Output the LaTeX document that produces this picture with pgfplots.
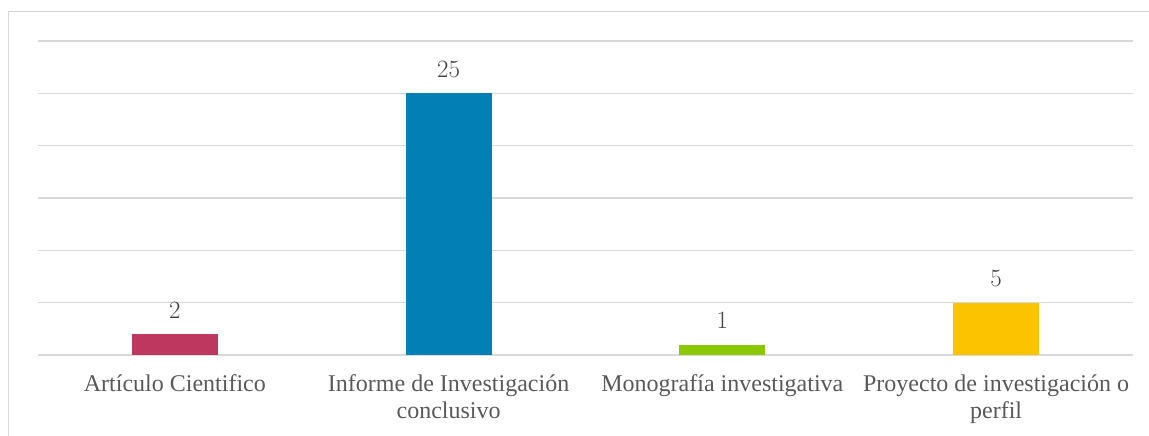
\documentclass[border=0pt]{standalone}
\usepackage{pgfplots}
\pgfplotsset{compat=1.18}
\usepackage{fontspec}
\setmainfont{Liberation Serif}
\definecolor{cpink}{RGB}{190,55,95}
\definecolor{cblue}{RGB}{0,128,180}
\definecolor{cgreen}{RGB}{140,200,0}
\definecolor{cyellow}{RGB}{252,195,0}
\definecolor{gridc}{RGB}{217,217,217}
\definecolor{txt}{RGB}{89,89,89}
\definecolor{vtxt}{RGB}{64,64,64}
\begin{document}
\begin{tikzpicture}[x=1pt,y=1pt]
\useasboundingbox (0,0) rectangle (1149,436);
\draw[gridc, line width=1.2pt] (8.5,-5) -- (8.5,424.5) -- (1160,424.5);
\begin{axis}[
  at={(38pt,81pt)}, anchor=south west,
  width=1095pt, height=314pt, scale only axis,
  xmin=-0.5, xmax=3.5, ymin=0, ymax=30,
  axis line style={draw=none},
  major tick length=0pt,
  ytick={0,5,...,30},
  yticklabels={},
  ymajorgrids, grid style={gridc, line width=1.6pt},
  xtick={0,1,2,3},
  xticklabels={},
  ybar, bar width=86pt,
  clip=false,
  nodes near coords,
  every node near coord/.style={font=\fontsize{24}{26}\selectfont, text=vtxt, anchor=base, yshift=16pt, inner sep=0pt},
]
\addplot[fill=cpink, draw=none, bar shift=0pt] coordinates {(0,2)};
\addplot[fill=cblue, draw=none, bar shift=0pt] coordinates {(1,25)};
\addplot[fill=cgreen, draw=none, bar shift=0pt] coordinates {(2,1)};
\addplot[fill=cyellow, draw=none, bar shift=0pt] coordinates {(3,5)};
\foreach \i/\s/\lab in {0/-37/{Artículo Cientifico},1/-63.5/{Informe de Investigación\\conclusivo},2/-37/{Monografía investigativa},3/-63.5/{Proyecto de investigación o\\perfil}} {
  \edef\tmp{\noexpand\node[anchor=base, align=center, text=txt, font=\noexpand\fontsize{24}{26.5}\noexpand\selectfont, inner sep=0pt] at (axis cs:\i,0) [yshift=\s pt] {\unexpanded\expandafter{\lab}};}
  \tmp
}
\end{axis}
\end{tikzpicture}
\end{document}
